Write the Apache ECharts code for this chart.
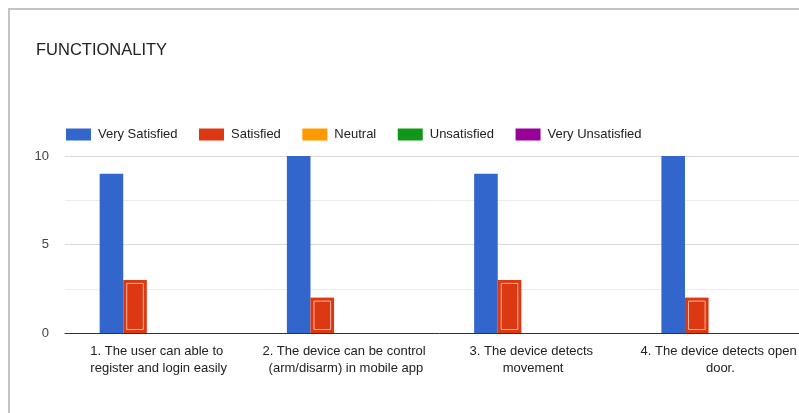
<!DOCTYPE html>
<html>
<head>
<meta charset="utf-8">
<script src="https://cdn.jsdelivr.net/npm/echarts@6/dist/echarts.min.js"></script>
<style>
  html, body { margin: 0; padding: 0; background: #fff; overflow: hidden; width: 799px; height: 413px; }
  #card { position: absolute; left: 8px; top: 8px; width: 900px; height: 500px;
          border-top: 2px solid #c4c4c4; border-left: 2px solid #c4c4c4; }
  #chart { position: absolute; left: 0; top: 0; width: 830px; height: 413px; }
</style>
</head>
<body>
<div id="card"></div>
<div id="chart"></div>
<script>
const titleText = 'FUNCTIONALITY';
const categories = [
  '1. The user can able to register and login easily',
  '2. The device can be control (arm/disarm) in mobile app',
  '3. The device detects movement',
  '4. The device detects open door.'
];
const seriesNames = ['Very Satisfied', 'Satisfied', 'Neutral', 'Unsatisfied', 'Very Unsatisfied'];
const verySatisfied = [9, 10, 9, 10];
const satisfied = [3, 2, 3, 2];
const neutral = [0, 0, 0, 0];
const unsatisfied = [0, 0, 0, 0];
const veryUnsatisfied = [0, 0, 0, 0];
const yTicks = [0, 5, 10];

const colors = ['#3366cc', '#dc3912', '#ff9900', '#109618', '#990099'];
const gapRatio = 0.37;
const FONT = '"Liberation Sans", Arial, sans-serif';

const chart = echarts.init(document.getElementById('chart'), null, { renderer: 'canvas' });

const valueSets = [verySatisfied, satisfied, neutral, unsatisfied, veryUnsatisfied];
const barSeries = seriesNames.map((name, i) => ({
  name: name,
  type: 'bar',
  data: valueSets[i],
  barGap: '0%',
  barCategoryGap: (gapRatio * 100) + '%',
  itemStyle: { color: colors[i] },
  emphasis: { disabled: true },
  silent: true
}));

// light inset outline drawn inside the "Satisfied" bars
const insetSeries = {
  type: 'custom',
  silent: true,
  z: 5,
  data: satisfied.map((v, i) => [i, v]),
  renderItem: function (params, api) {
    const idx = api.value(0);
    const top = api.coord([idx, api.value(1)]);
    const base = api.coord([idx, 0]);
    const band = api.size([1, 0])[0];
    const barW = band * (1 - gapRatio) / seriesNames.length;
    const left = top[0] - band * (1 - gapRatio) / 2 + barW;
    const inset = 3;
    return {
      type: 'rect',
      shape: {
        x: left + inset + 0.5,
        y: top[1] + inset + 0.5,
        width: barW - inset * 2 - 1,
        height: base[1] - top[1] - inset * 2 - 1
      },
      style: { fill: 'none', stroke: '#f7b3a2', lineWidth: 1 }
    };
  }
};

chart.setOption({
  animation: false,
  backgroundColor: 'transparent',
  title: {
    text: titleText,
    left: 36,
    top: 42,
    padding: 0,
    textStyle: { fontFamily: FONT, fontSize: 16.5, fontWeight: 'normal', color: '#222' }
  },
  legend: {
    data: seriesNames,
    left: 66,
    top: 128,
    padding: 0,
    itemWidth: 25,
    itemHeight: 12,
    itemGap: 21.5,
    icon: 'rect',
    selectedMode: false,
    textStyle: { fontFamily: FONT, fontSize: 13, color: '#222', padding: [0, 0, 0, 2] }
  },
  grid: { left: 65, right: 16, top: 156, bottom: 80 },
  xAxis: {
    type: 'category',
    data: categories,
    axisTick: { show: false },
    axisLine: { show: true, lineStyle: { color: '#333', width: 1 } },
    axisLabel: {
      interval: 0,
      margin: 10,
      width: 172,
      overflow: 'break',
      lineHeight: 17,
      fontFamily: FONT,
      fontSize: 13,
      color: '#222',
      align: 'center'
    }
  },
  yAxis: {
    type: 'value',
    min: yTicks[0],
    max: yTicks[yTicks.length - 1],
    interval: yTicks[1] - yTicks[0],
    axisLine: { show: false },
    axisTick: { show: false },
    axisLabel: { margin: 16, fontFamily: FONT, fontSize: 13, color: '#444' },
    splitLine: { lineStyle: { color: '#d9d9d9', width: 1 } },
    minorTick: { show: false, splitNumber: 2 },
    minorSplitLine: { show: true, lineStyle: { color: '#ececec', width: 1 } }
  },
  series: barSeries.concat([insetSeries])
});
</script>
</body>
</html>
